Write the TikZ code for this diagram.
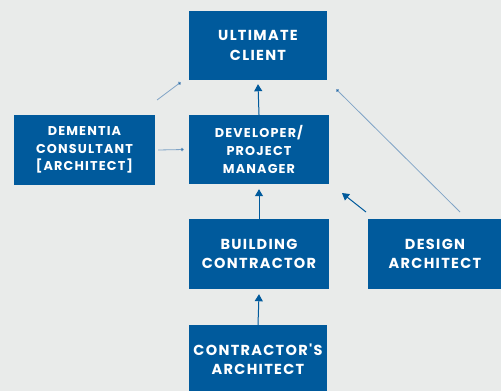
\documentclass[tikz,border=0pt]{standalone}
\usepackage{fontspec}
\usetikzlibrary{arrows.meta}
\newfontfamily\boxfont{Poppins}[LetterSpace=9]
\definecolor{bg}{HTML}{E9EBEA}
\definecolor{boxblue}{HTML}{005A9C}
\definecolor{thinblue}{HTML}{7FA3C6}
\tikzset{
  box/.style={fill=boxblue, draw=none, text=white, align=center, font=\boxfont\bfseries, inner sep=0pt},
  big/.style={font=\boxfont\bfseries\fontsize{14.5}{19.5}\selectfont},
  small/.style={font=\boxfont\bfseries\fontsize{12.8}{17.8}\selectfont},
  mainarrow/.style={draw=boxblue, line width=1pt, -{Triangle[length=7pt,width=8pt]}},
  thinarrow/.style={draw=thinblue, line width=0.8pt, -{Circle[length=3.5pt,fill=boxblue]}},
}
\begin{document}
\begin{tikzpicture}[x=1pt,y=-1pt]
\fill[bg] (0,0) rectangle (501,391);
\useasboundingbox (0,0) rectangle (501,391);
\node[box,big,minimum width=138pt,minimum height=69pt] (uc) at (258,45.5) {ULTIMATE\\CLIENT};
\node[box,small,minimum width=141pt,minimum height=70pt] (dem) at (84.5,150) {DEMENTIA\\CONSULTANT\\{[ARCHITECT]}};
\node[box,small,minimum width=140pt,minimum height=69pt] (dev) at (259,149.5) {DEVELOPER/\\PROJECT\\MANAGER};
\node[box,big,minimum width=140pt,minimum height=70pt] (bc) at (259,254) {BUILDING\\CONTRACTOR};
\node[box,big,minimum width=134pt,minimum height=70pt] (da) at (435,254) {DESIGN\\ARCHITECT};
\node[box,big,minimum width=138pt,minimum height=68pt] (ca) at (258,359) {CONTRACTOR'S\\ARCHITECT};
\coordinate (demtop) at (157,100);
\coordinate (datop) at (460,212);
\coordinate (dadev) at (366,212);
\draw[mainarrow] (dev.north) -- ([yshift=-4pt]uc.south);
\draw[mainarrow] (bc.north) -- ([yshift=-5pt]dev.south);
\draw[mainarrow] (ca.north) -- ([yshift=-5pt]bc.south);
\draw[mainarrow] (dadev) -- (342,193);
\draw[thinarrow] (dem.east) ++(3,0) -- ([xshift=-5pt]dev.west);
\draw[thinarrow] (demtop) -- ([xshift=-8pt,yshift=-2pt]uc.south west);
\draw[thinarrow] (datop) -- ([xshift=9pt,yshift=-9pt]uc.south east);
\end{tikzpicture}
\end{document}
